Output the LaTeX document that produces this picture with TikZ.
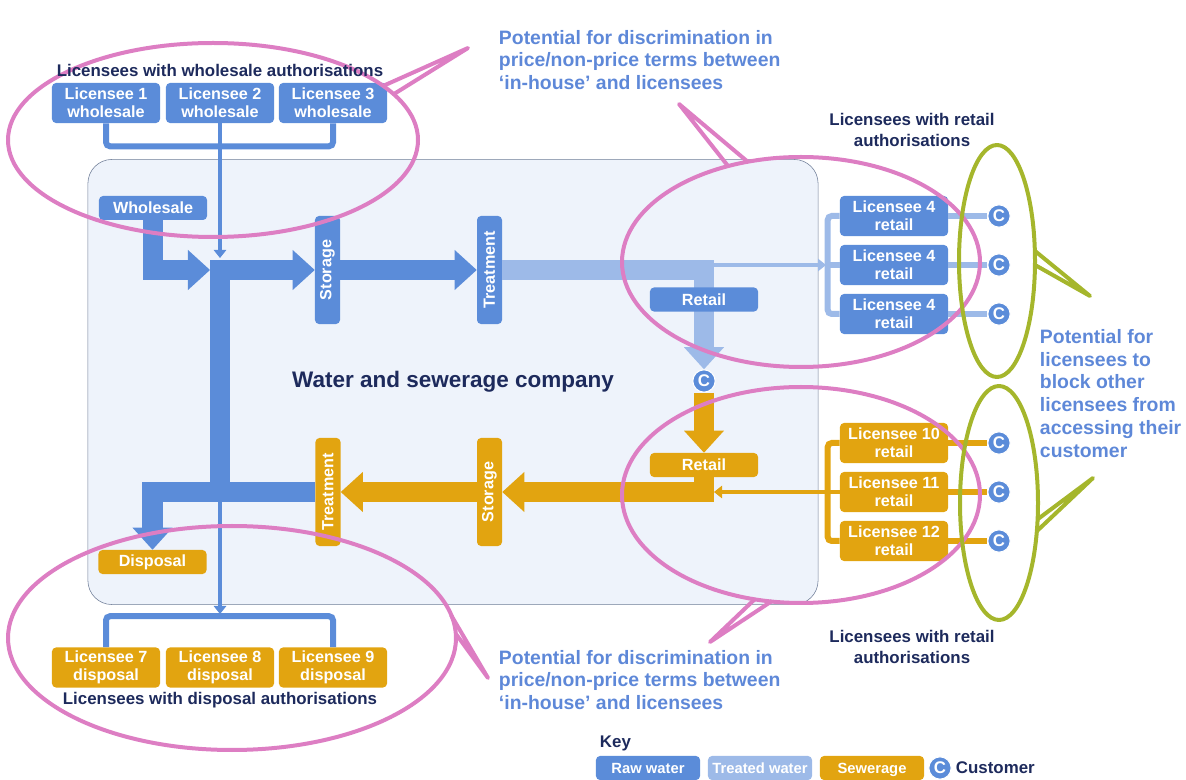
\documentclass[tikz,border=0pt]{standalone}
\usepackage{fontspec}
\setmainfont{Liberation Sans}
\usepackage{graphicx}
\usetikzlibrary{arrows.meta}

\definecolor{raw}{HTML}{5B8CD9}
\definecolor{treated}{HTML}{9DBAE8}
\definecolor{sew}{HTML}{E2A410}
\definecolor{ringpink}{HTML}{DD7EC3}
\definecolor{ringgreen}{HTML}{A5B62C}
\definecolor{navy}{HTML}{1D2A5C}
\definecolor{noteblue}{HTML}{5E88D8}
\definecolor{wasc}{HTML}{EEF3FB}
\definecolor{wascline}{HTML}{707E98}

\begin{document}
\begin{tikzpicture}[x=0.025cm, y=-0.025cm,
    flowbox/.style={rounded corners=0.1cm, text=white, inner sep=0pt, align=center,
        font=\fontsize{11.5}{12.5}\selectfont\bfseries},
    rawbox/.style={flowbox, fill=raw, minimum width=2.7cm, minimum height=1cm},
    sewbox/.style={flowbox, fill=sew, minimum width=2.7cm, minimum height=1cm},
    slimbox/.style={flowbox, minimum width=2.7cm, minimum height=0.6cm},
    stagebox/.style={flowbox, minimum width=0.625cm, minimum height=2.7cm},
    keybox/.style={flowbox, minimum width=2.6cm, minimum height=0.6cm,
        text height=7.5pt, text depth=0pt, font=\fontsize{10.5}{12}\selectfont\bfseries},
    custnode/.style={circle, fill=raw, draw=white, line width=0.8pt, inner sep=0pt,
        minimum size=0.56cm, text=white, font=\fontsize{12}{12}\selectfont\bfseries},
    navytext/.style={text=navy, align=center, font=\fontsize{12}{14.9}\selectfont\bfseries},
    notetext/.style={text=noteblue, align=left, font=\fontsize{13.8}{16.3}\selectfont\bfseries},
    fathead/.style={-{Triangle[length=0.55cm, width=1cm, line width=0pt]}},
    thinhead/.style={-{Triangle[length=0.2cm, width=0.32cm, line width=0pt]}},
    rawflow/.style={draw=raw, line width=0.5cm, fathead},
    twflow/.style={draw=treated, line width=0.5cm, fathead},
    sewflow/.style={draw=sew, line width=0.5cm, fathead},
    rawthin/.style={draw=raw, line width=0.1cm, thinhead},
    twthin/.style={draw=treated, line width=0.1cm, thinhead},
    sewthin/.style={draw=sew, line width=0.1cm, thinhead},
    bracket/.style={line width=0.15cm, rounded corners=0.1cm},
    discring/.style={draw=ringpink, line width=0.1cm, line join=round},
    blockring/.style={draw=ringgreen, line width=0.1cm, line join=round}]

    \useasboundingbox (0,0) rectangle (1186,780);

    % Company
    \node[draw=wascline, fill=wasc, rounded corners=0.6cm, minimum width=18.25cm,
        minimum height=11.125cm, text=navy, font=\fontsize{16}{18}\selectfont\bfseries]
        (company) at (453,382) {Water and sewerage company};

    % Stages inside the company
    \node[slimbox, fill=raw] (whs) at (153,208) {Wholesale};
    \node[stagebox, fill=raw] (stor) at (327.5,270) {\rotatebox{90}{Storage}};
    \node[stagebox, fill=raw] (treat) at (489.5,270) {\rotatebox{90}{Treatment}};
    \node[custnode] (cust) at (704,381) {C};
    \node[slimbox, fill=sew] (sret) at (704,465) {Retail};
    \node[stagebox, fill=sew] (sstor) at (489.5,492) {\rotatebox{90}{Storage}};
    \node[stagebox, fill=sew] (streat) at (328,492) {\rotatebox{90}{Treatment}};
    \node[slimbox, fill=sew] (disp) at (152.5,562) {Disposal};

    \coordinate (hubw) at (210,270);
    \coordinate (hubtop) at (220,258);
    \coordinate (barfoot) at (220,502);
    \coordinate (dbr) at (220,614);
    \coordinate (twj) at (714,265);
    \coordinate (rbr) at (826,265);
    \coordinate (sj) at (714,492);

    % Licensees around the company
    \foreach \i/\x in {1/106,2/220,3/333}
        \node[rawbox] (w\i) at (\x,103) {Licensee \i\\wholesale};
    \foreach \i/\x in {7/106,8/220,9/333}
        \node[sewbox] (d\i) at (\x,667.5) {Licensee \i\\disposal};
    \foreach \i/\y in {1/216,2/265,3/314}
        \node[rawbox] (r\i) at (894,\y) {Licensee 4\\retail};
    \foreach \i/\y in {10/443,11/492,12/541}
        \node[sewbox] (s\i) at (894,\y) {Licensee \i\\retail};
    \foreach \i/\y in {1/216,2/265,3/314}
        \node[custnode] (rc\i) at (999,\y) {C};
    \foreach \i/\y in {10/443,11/492,12/541}
        \node[custnode] (sc\i) at (999,\y) {C};

    % Raw water
    \draw[rawflow] (whs.south) |- (hubw);
    \draw[rawflow] (barfoot) -- (220,270) -- (stor.west);
    \draw[rawflow] (stor.east) -- (treat.west);
    \draw[raw, bracket] (w1.south) -- ++(0,23) -| (w3.south);
    \draw[rawthin] (w2.south) -- (hubtop);

    % Treated water
    \draw[twflow] (treat.east) -| (cust.north);
    \draw[twthin] (twj) -- (rbr);
    \draw[treated, bracket] (r1.west) -- ++(-12,0) |- (r3.west);
    \draw[treated, bracket] (r2.west) -- ++(-14,0);
    \foreach \i in {1,2,3}
        \draw[treated, line width=0.15cm] (r\i.east) -- (rc\i);
    \node[slimbox, fill=raw] (bret) at (704,299.5) {Retail};

    % Sewerage
    \draw[sewflow] (cust.south) -- (sret.north);
    \draw[sewflow] (sret.south) |- (sstor.east);
    \draw[sewflow] (sstor.west) -- (streat.east);
    \draw[rawflow] (streat.west) -| (disp.north);
    \draw[sew, bracket] (s10.west) -- ++(-12,0) |- (s12.west);
    \draw[sewthin] (s11.west) -- (sj);
    \foreach \i in {10,11,12}
        \draw[sew, line width=0.17cm] (s\i.east) -- (sc\i);
    \draw[raw, bracket] (d7.north) -- ++(0,-31) -| (d9.north);
    \draw[rawthin] (barfoot) -- (dbr);

    % Rings with their pointers
    \draw[discring] (213,140) ellipse [x radius=205, y radius=97];
    \draw[discring] (383,86) -- (468,48) -- (394,94);
    \draw[discring] (801,262) ellipse [x radius=179, y radius=105];
    \draw[discring] (728,166) -- (679,104) -- (748,162);
    \draw[discring] (801,495) ellipse [x radius=179, y radius=108];
    \draw[discring] (755,599) -- (710,642) -- (772,601);
    \draw[discring] (232,638) ellipse [x radius=224, y radius=112];
    \draw[discring] (451,615) -- (488,678) -- (456,634);
    \draw[blockring] (997,261) ellipse [x radius=38, y radius=116];
    \draw[blockring] (1035,251) -- (1090,296) -- (1035,265);
    \draw[blockring] (999,503) ellipse [x radius=39, y radius=117];
    \draw[blockring] (1038,519) -- (1093,478) -- (1037,531);

    % Labels
    \node[navytext] (whlab) at (220,70) {Licensees with wholesale authorisations};
    \node[navytext] (dlab) at (220,700) {Licensees with disposal authorisations};
    \node[navytext] (rlab) at (912,130) {Licensees with retail\\authorisations};
    \node[navytext] (slab) at (912,647) {Licensees with retail\\authorisations};

    \node[notetext, anchor=west] (topnote) at (494,60)
        {Potential for discrimination in\\price/non-price terms between\\‘in-house’ and licensees};
    \node[notetext, anchor=west] (lownote) at (494,680)
        {Potential for discrimination in\\price/non-price terms between\\‘in-house’ and licensees};
    \node[notetext, anchor=west] (blocknote) at (1035,393.5)
        {Potential for\\licensees to\\block other\\licensees from\\accessing their\\customer};

    % Key
    \node[navytext, anchor=west] (keyhead) at (595,743) {Key};
    \node[keybox, fill=raw] (keyraw) at (648,768) {Raw water};
    \node[keybox, fill=treated] (keytw) at (760,768) {Treated water};
    \node[keybox, fill=sew] (keysew) at (872,768) {Sewerage};
    \node[custnode] (keycust) at (940,768) {C};
    \node[navytext, anchor=west] (keytext) at (951,768) {Customer};
\end{tikzpicture}
\end{document}
